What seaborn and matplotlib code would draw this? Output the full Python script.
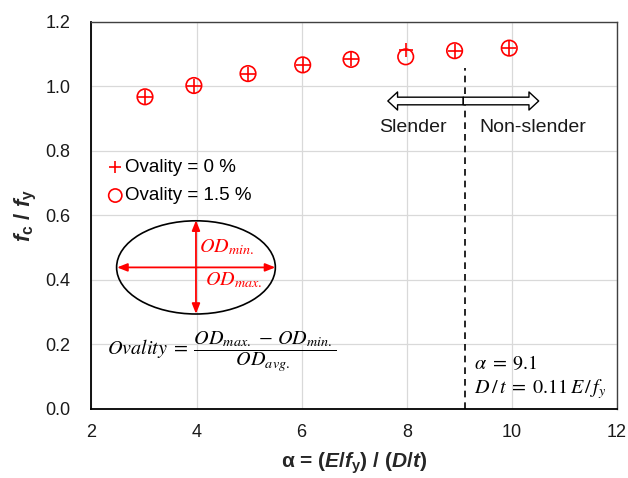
import matplotlib
matplotlib.use('Agg')
import matplotlib.pyplot as plt
import seaborn as sns
from matplotlib.patches import Ellipse, FancyArrowPatch

# ---- data ----
alpha = [3.02, 3.95, 4.98, 6.02, 6.94, 7.98, 8.91, 9.95]
fc_fy_ovality_0 = [0.968, 1.003, 1.040, 1.067, 1.084, 1.113, 1.111, 1.119]
fc_fy_ovality_15 = [0.968, 1.003, 1.040, 1.067, 1.084, 1.092, 1.111, 1.119]
series_labels = ['Ovality = 0 %', 'Ovality = 1.5 %']
x_ticks = [2, 4, 6, 8, 10, 12]
y_ticks = [0.0, 0.2, 0.4, 0.6, 0.8, 1.0, 1.2]
y_tick_labels = ['0.0', '0.2', '0.4', '0.6', '0.8', '1.0', '1.2']
alpha_limit = 9.1

sns.set_theme(style='whitegrid')
plt.rcParams['font.family'] = ['Liberation Sans', 'DejaVu Sans']
plt.rcParams['mathtext.fontset'] = 'custom'
plt.rcParams['mathtext.rm'] = 'Liberation Sans:bold'
plt.rcParams['mathtext.it'] = 'Liberation Sans:italic:bold'
plt.rcParams['mathtext.bf'] = 'Liberation Sans:bold'
plt.rcParams['text.color'] = 'black'

fig = plt.figure(figsize=(6.28, 4.78), dpi=100)
ax = fig.add_axes([0.1455, 0.1444, 0.837, 0.8096])

sns.scatterplot(x=alpha, y=fc_fy_ovality_0, marker='+', s=110, color='red',
                linewidth=1.2, ax=ax, label=series_labels[0], zorder=3)
sns.scatterplot(x=alpha, y=fc_fy_ovality_15, marker='o', s=125,
                facecolor='none', edgecolor='red', linewidth=1.2, ax=ax,
                label=series_labels[1], zorder=3)

ax.set_xlim(2, 12)
ax.set_ylim(0, 1.2)
ax.set_xticks(x_ticks)
ax.set_yticks(y_ticks)
ax.set_yticklabels(y_tick_labels)
ax.tick_params(direction='in', length=4.5, width=1, color='black',
               labelsize=13, labelcolor='#1a1a1a')
ax.tick_params(axis='y', pad=15)
ax.tick_params(axis='x', pad=10.5)
ax.grid(True, color='#d9d9d9', linewidth=0.9)
for s in ['left', 'bottom']:
    ax.spines[s].set_color('black')
    ax.spines[s].set_linewidth(1.3)
for s in ['top', 'right']:
    ax.spines[s].set_color('#404040')
    ax.spines[s].set_linewidth(1.0)

ax.set_xlabel(r'α = ($E$/$f_{\mathrm{y}}$) / ($D$/$t$)', fontsize=15,
              fontweight='bold', labelpad=7.5)
ax.set_ylabel(r'$f_{\mathrm{c}}$ / $f_{\mathrm{y}}$', fontsize=16,
              fontweight='bold', labelpad=4.8)

leg = ax.legend(loc='upper left', bbox_to_anchor=(0.008, 0.68), frameon=False,
                fontsize=13.5, handlelength=0.7, handletextpad=0.15,
                labelspacing=0.6, borderaxespad=0.3, markerscale=0.85)
for t in leg.get_texts():
    t.set_color('black')

# slenderness limit
ax.vlines(alpha_limit, 0, 1.057, colors='black', linestyles=(0, (4, 3)),
          linewidth=1.2, zorder=2)
for x_end in (7.64, 10.51):
    arr = FancyArrowPatch((9.075, 0.955), (x_end, 0.955),
                          arrowstyle='simple,head_length=7,head_width=13,tail_width=5.5',
                          mutation_scale=1, shrinkA=0, shrinkB=0,
                          facecolor='white', edgecolor='black', linewidth=1.0,
                          zorder=4)
    ax.add_patch(arr)
ax.text(8.11, 0.872, 'Slender', ha='center', va='center', fontsize=14, color='#1a1a1a')
ax.text(10.4, 0.872, 'Non-slender', ha='center', va='center', fontsize=14, color='#1a1a1a')

ax.text(9.28, 0.14, r'$\alpha\;=\;9.1$', ha='left', va='center', fontsize=14.5,
        math_fontfamily='stix')
ax.text(9.28, 0.062, r'$D\,/\,t\;=\;0.11\,E\,/\,f_y$', ha='left', va='center',
        fontsize=14.5, math_fontfamily='stix')

# ovality sketch
ax.add_patch(Ellipse((3.99, 0.439), 3.02, 0.289, facecolor='none',
                     edgecolor='black', linewidth=1.2, zorder=3))
ax.annotate('', xy=(2.49, 0.439), xytext=(5.5, 0.439),
            arrowprops=dict(arrowstyle='<|-|>,head_length=0.5,head_width=0.2',
                            color='red', lw=1.3, shrinkA=0, shrinkB=0))
ax.annotate('', xy=(3.99, 0.585), xytext=(3.99, 0.295),
            arrowprops=dict(arrowstyle='<|-|>,head_length=0.5,head_width=0.2',
                            color='red', lw=1.3, shrinkA=0, shrinkB=0))
ax.text(4.05, 0.503, r'$OD_{min.}$', color='red', ha='left', va='center',
        fontsize=14.5, math_fontfamily='stix')
ax.text(4.17, 0.40, r'$OD_{max.}$', color='red', ha='left', va='center',
        fontsize=14.5, math_fontfamily='stix')
ax.text(2.3, 0.178, r'$Ovality\;=\;\dfrac{OD_{max.}\,-\,OD_{min.}}{OD_{avg.}}$',
        ha='left', va='center', fontsize=14.5, math_fontfamily='stix')

fig.savefig('out.png', dpi=100)
